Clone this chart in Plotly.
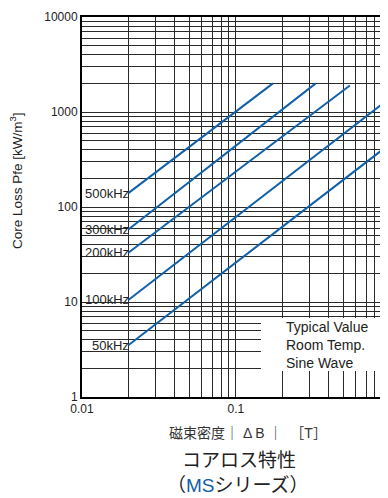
import math
import plotly.graph_objects as go

# ---- data ----
freq_labels = ["500kHz", "300kHz", "200kHz", "100kHz", "50kHz"]
b_start = [0.02, 0.02, 0.02, 0.02, 0.02]
b_end = [0.174, 0.33, 0.55, 1.0, 1.0]
p_start = [140, 58, 33, 10.5, 3.5]
p_end = [2000, 2000, 1900, 1400, 460]

x_tickvals = [0.01, 0.02, 0.03, 0.04, 0.05, 0.06, 0.07, 0.08, 0.09,
              0.1, 0.2, 0.3, 0.4, 0.5, 0.6, 0.7, 0.8, 0.9, 1.0]
x_ticktext = ["0.01", "", "", "", "", "", "", "", "",
              "0.1", "", "", "", "", "", "", "", "", "1"]
y_tickvals = []
y_ticktext = []
for dec in [1, 10, 100, 1000]:
    for m in range(1, 10):
        y_tickvals.append(dec * m)
        y_ticktext.append(str(dec) if m == 1 else "")
y_tickvals.append(10000)
y_ticktext.append("10000")

note_lines = ["Typical Value", "Room Temp.", "Sine Wave"]

FONT = "Liberation Sans, Arial, Noto Sans CJK JP, sans-serif"
LINE_COLOR = "#1060aa"
GRID = "#2a2a2a"

# page body has an 8px default margin
OFF = 8
PL, PT, PW, PH = 82, 17, 306, 380  # plot area in window pixels

fig = go.Figure()
for name, x0, x1, y0, y1 in zip(freq_labels, b_start, b_end, p_start, p_end):
    fig.add_trace(go.Scatter(x=[x0, x1], y=[y0, y1], mode="lines",
                             line=dict(color=LINE_COLOR, width=2),
                             name=name, showlegend=False, hoverinfo="skip"))
    fig.add_annotation(x=math.log10(x0), y=math.log10(y0), text=name,
                       xref="x", yref="y", xanchor="right", yanchor="middle",
                       xshift=3, showarrow=False,
                       font=dict(family=FONT, size=13, color="#222"))

fig.update_xaxes(type="log", range=[-2, -0.012], tickvals=x_tickvals,
                 ticktext=x_ticktext, showgrid=True, gridcolor=GRID, gridwidth=1,
                 showline=True, linecolor="black", linewidth=2, mirror=True,
                 ticks="", tickfont=dict(family=FONT, size=12, color="#222"),
                 zeroline=False)
fig.update_yaxes(type="log", range=[0, 4], tickvals=y_tickvals,
                 ticktext=y_ticktext, showgrid=True, gridcolor=GRID, gridwidth=1,
                 showline=True, linecolor="black", linewidth=2, mirror=False,
                 ticks="", tickfont=dict(family=FONT, size=12, color="#222"),
                 zeroline=False)


def px(xw):
    return (xw - PL) / PW


def py(yw):
    return (PT + PH - yw) / PH


# note box
fig.add_shape(type="rect", xref="paper", yref="paper",
              x0=px(261), x1=px(383), y0=py(371), y1=py(318),
              fillcolor="white", line=dict(width=0), layer="above")
fig.add_annotation(xref="paper", yref="paper", x=px(284), y=py(344.5),
                   xanchor="left", yanchor="middle", align="left",
                   showarrow=False, text="<br>".join(note_lines),
                   font=dict(family=FONT, size=14, color="#222"))

# axis titles and caption
fig.add_annotation(xref="paper", yref="paper", x=px(16), y=py(181),
                   textangle=-90, showarrow=False,
                   xanchor="center", yanchor="middle",
                   text="Core Loss Pfe [kW/m<sup>3</sup>]",
                   font=dict(family=FONT, size=13.5, color="#222"))
fig.add_annotation(xref="paper", yref="paper", x=px(248), y=0,
                   yshift=-(433 - 397), xanchor="center", yanchor="middle",
                   showarrow=False, text="磁束密度｜ Δ B ｜  ［T］",
                   font=dict(family=FONT, size=14, color="#333"))
fig.add_annotation(xref="paper", yref="paper", x=px(239), y=0,
                   yshift=-(460 - 397), xanchor="center", yanchor="middle",
                   showarrow=False, text="コアロス特性",
                   font=dict(family=FONT, size=19, color="#222"))
fig.add_annotation(xref="paper", yref="paper", x=px(238), y=0,
                   yshift=-(485 - 397), xanchor="center", yanchor="middle",
                   showarrow=False,
                   text="（<span style='color:#1060aa'>MS</span>シリーズ）",
                   font=dict(family=FONT, size=19, color="#222"))

fig.update_layout(width=388 - OFF, height=498 - OFF, autosize=False,
                  margin=dict(l=PL - OFF, r=0, t=PT - OFF,
                              b=498 - OFF - (PT - OFF) - PH),
                  paper_bgcolor="white", plot_bgcolor="white",
                  showlegend=False)

fig.write_html("out.html")
